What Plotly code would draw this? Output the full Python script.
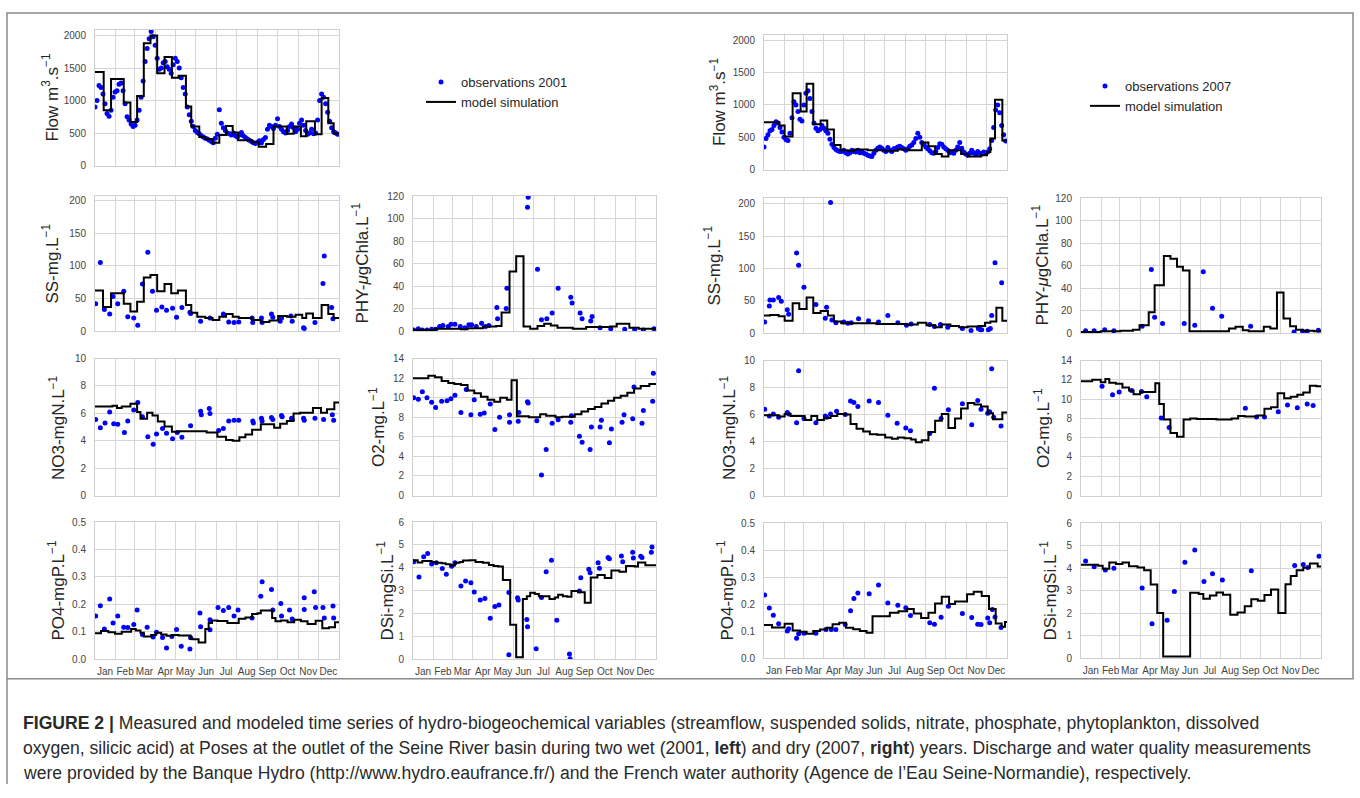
import plotly.graph_objects as go

W, H = 1360, 798

MONTHS = ["Jan", "Feb", "Mar", "Apr", "May", "Jun", "Jul", "Aug", "Sep", "Oct", "Nov", "Dec"]
MONTH_START = [0, 31, 59, 90, 120, 151, 181, 212, 243, 273, 304, 334]
MONTH_MID = [15, 45, 74, 105, 135, 166, 196, 227, 258, 288, 319, 349]

# ---------------- 2001 (wet year, left) ----------------
flow01_obs_day = list(range(0, 365, 3))
flow01_obs = [900, 1000, 1230, 1200, 1100, 950, 800, 760, 850, 1050,
              1130, 1150, 1250, 1270, 1150, 950, 750, 700, 640, 600,
              620, 700, 850, 1050, 1300, 1600, 1800, 1950, 2060, 1980,
              1850, 1650, 1480, 1500, 1580, 1600, 1520, 1480, 1420, 1550,
              1650, 1600, 1500, 1350, 1200, 1100, 900, 780, 680, 600,
              540, 510, 490, 460, 440, 420, 410, 390, 370, 350,
              420, 480, 860, 650, 580, 540, 500, 490, 470, 500,
              460, 440, 470, 510, 460, 430, 410, 390, 370, 350,
              340, 360, 380, 350, 400, 430, 560, 620, 600, 570,
              620, 720, 600, 560, 520, 500, 540, 600, 640, 580,
              520, 560, 650, 700, 620, 540, 480, 500, 560, 490,
              500, 700, 1000, 1100, 1050, 950, 820, 680, 580, 520,
              500, 480]
flow01_mod_day = [0, 13, 24, 43, 53, 63, 73, 83, 93, 104, 115, 125, 136, 144, 156, 165, 176, 186, 196, 206,
                  214, 235, 245, 256, 267, 287, 297, 308, 316, 329, 339, 349, 357]
flow01_mod = [1440, 850, 1330, 970, 670, 1070, 1880, 2000, 1420, 1670, 1350, 1380, 910, 600, 440, 410, 350, 470, 610, 510,
              390, 360, 290, 330, 600, 490, 600, 450, 680, 480, 1040, 650, 490]

ss01_obs_day = [1, 8, 14, 22, 27, 34, 43, 49, 58, 64, 71, 79, 86, 92, 100, 107, 116, 122, 130, 142, 143, 158, 172,
                192, 200, 208, 215, 235, 236, 249, 250, 264, 266, 277, 279, 293, 295, 312, 313, 329, 341, 343, 354, 356]
ss01_obs = [42, 105, 33, 26, 53, 42, 61, 22, 20, 9, 72, 121, 61, 32, 37, 32, 35, 21, 36, 29, 27, 15, 20,
            26, 14, 13, 14, 20, 13, 20, 13, 26, 21, 15, 20, 23, 15, 5, 4, 13, 73, 115, 36, 19]
ss01_mod_day = [0, 12, 24, 43, 53, 63, 73, 83, 93, 104, 114, 124, 136, 144, 153, 165, 176, 186, 196, 206,
                215, 235, 248, 261, 274, 287, 300, 310, 316, 326, 339, 349, 357]
ss01_mod = [62, 37, 58, 42, 30, 45, 82, 86, 61, 72, 58, 62, 40, 28, 22, 20, 17, 22, 26, 22,
            20, 17, 14, 16, 23, 22, 25, 20, 27, 20, 40, 26, 20]

phy01_obs_day = [1, 8, 14, 21, 28, 34, 40, 45, 53, 57, 63, 71, 78, 84, 88, 95, 103, 109, 114, 126, 127, 140, 141,
                 172, 173, 187, 193, 201, 209, 218, 237, 239, 251, 254, 267, 269, 281, 297, 318, 333, 346, 362]
phy01_obs = [1, 2, 1, 1, 1.5, 1.5, 4, 5, 4, 6, 6, 4, 3, 5.5, 5.5, 4, 7, 4, 5, 21, 11, 20, 38,
             110, 119, 55, 10, 11, 16, 38, 30, 25, 16, 11, 9, 13, 3, 2, 1.5, 1.5, 1, 2]
phy01_mod_day = [0, 33, 72, 82, 105, 125, 133, 145, 155, 166, 176, 187, 197, 207, 217, 240, 260, 296, 306, 325, 339]
phy01_mod = [1, 2, 1.5, 2.5, 4, 4.5, 16.5, 53, 66.5, 4, 2, 4.5, 6.5, 5, 3, 2, 3.5, 4, 6.5, 3, 2]

no301_obs_day = [1, 8, 15, 22, 28, 34, 44, 49, 58, 64, 71, 79, 87, 92, 101, 107, 116, 123, 130, 143, 158, 159,
                 171, 172, 185, 192, 200, 208, 215, 236, 237, 249, 250, 264, 266, 279, 280, 294, 295, 312, 313,
                 329, 342, 355, 357]
no301_obs = [5.55, 4.95, 5.3, 6.1, 5.25, 5.2, 4.6, 5.45, 6.25, 6.8, 5.75, 4.3, 3.75, 4.5, 4.9, 4.55, 4.15, 4.6,
             4.25, 5.1, 6.15, 5.9, 6.35, 6.0, 4.75, 4.9, 5.45, 5.5, 5.5, 5.45, 5.3, 5.65, 5.45, 5.7, 5.55, 5.85,
             5.75, 5.65, 5.55, 5.65, 5.5, 5.65, 5.55, 5.9, 5.5]
no301_mod_day = [0, 26, 33, 40, 53, 63, 68, 78, 86, 94, 104, 115, 126, 167, 183, 196, 206, 216, 225, 235,
                 248, 268, 277, 287, 297, 307, 326, 338, 347, 358]
no301_mod = [6.5, 6.55, 6.4, 6.5, 6.7, 6.1, 5.6, 6.05, 5.85, 5.4, 5.05, 4.65, 4.7, 4.6, 4.3, 4.05, 4.0, 4.25, 4.45, 4.8,
             5.2, 4.95, 5.25, 5.45, 6.0, 6.05, 6.4, 6.05, 6.3, 6.8]

o201_obs_day = [1, 8, 14, 21, 28, 34, 43, 51, 57, 63, 72, 80, 87, 92, 101, 107, 116, 123, 130, 145, 145, 158,
                159, 172, 173, 186, 193, 200, 209, 218, 237, 238, 250, 254, 266, 268, 281, 283, 295, 298, 314,
                317, 330, 332, 344, 346, 360, 361]
o201_obs = [10.0, 9.85, 10.6, 10.0, 9.55, 9.0, 9.65, 9.7, 9.9, 10.25, 8.5, 10.85, 8.25, 9.8, 8.3, 8.45, 9.35,
            6.75, 8.0, 7.5, 8.25, 7.6, 8.5, 9.6, 9.45, 7.65, 2.1, 4.7, 7.4, 7.75, 7.5, 8.15, 6.05, 5.45, 4.7,
            7.0, 7.0, 7.7, 5.4, 6.8, 7.5, 8.25, 7.85, 11.1, 7.4, 8.7, 9.65, 12.5]
o201_mod_day = [0, 23, 33, 43, 53, 62, 72, 82, 92, 102, 112, 122, 131, 141, 148, 156, 174, 191, 200, 214,
                224, 243, 253, 263, 273, 283, 293, 302, 312, 322, 332, 342, 355]
o201_mod = [12.0, 12.25, 12.1, 11.7, 11.5, 11.4, 11.3, 10.75, 10.45, 10.1, 9.8, 9.6, 10.0, 9.8, 11.8, 8.1, 8.0,
            8.3, 8.15, 8.0, 8.05, 8.3, 8.6, 8.85, 9.05, 9.4, 9.7, 10.0, 10.2, 10.5, 10.95, 11.2, 11.4]

po401_obs_day = [1, 8, 14, 22, 27, 34, 43, 49, 58, 63, 71, 78, 87, 92, 101, 107, 115, 122, 129, 142, 143, 157,
                 158, 172, 172, 184, 192, 200, 208, 214, 235, 248, 250, 264, 266, 278, 279, 291, 295, 313, 313,
                 328, 330, 341, 343, 356, 357]
po401_obs = [0.157, 0.195, 0.11, 0.219, 0.132, 0.157, 0.116, 0.115, 0.126, 0.179, 0.09, 0.116, 0.08, 0.098,
             0.079, 0.04, 0.082, 0.108, 0.047, 0.037, 0.078, 0.168, 0.118, 0.143, 0.107, 0.188, 0.177, 0.188,
             0.157, 0.179, 0.15, 0.229, 0.282, 0.254, 0.179, 0.203, 0.157, 0.179, 0.146, 0.224, 0.181, 0.246,
             0.188, 0.188, 0.15, 0.194, 0.15]
po401_mod_day = [0, 9, 20, 30, 40, 54, 61, 68, 73, 84, 91, 99, 107, 115, 125, 143, 146, 155, 165, 170,
                 175, 183, 198, 215, 225, 235, 243, 248, 265, 270, 278, 288, 298, 308, 318, 330, 340, 350, 359]
po401_mod = [0.094, 0.102, 0.098, 0.092, 0.1, 0.11, 0.104, 0.096, 0.082, 0.088, 0.096, 0.09, 0.085, 0.088,
             0.086, 0.074, 0.072, 0.06, 0.11, 0.132, 0.141, 0.139, 0.132, 0.147, 0.152, 0.164, 0.167, 0.177,
             0.15, 0.138, 0.141, 0.134, 0.143, 0.138, 0.128, 0.14, 0.112, 0.116, 0.134]

dsi01_obs_day = [1, 9, 16, 22, 28, 35, 44, 50, 58, 63, 72, 79, 87, 92, 101, 108, 116, 123, 129, 144, 144, 157,
                 158, 171, 172, 185, 193, 200, 208, 216, 235, 236, 250, 252, 264, 266, 278, 280, 293, 295, 313,
                 315, 330, 331, 342, 344, 358, 359]
dsi01_obs = [4.26, 3.6, 4.48, 4.62, 4.16, 4.22, 3.97, 3.72, 4.07, 4.22, 3.2, 3.42, 3.34, 2.94, 2.59, 2.65, 1.79,
             2.3, 2.37, 0.19, 2.92, 2.69, 2.59, 1.73, 1.41, 0.45, 2.7, 3.82, 4.33, 1.7, 0.22, 0.01, 2.98, 3.56,
             3.94, 3.78, 4.22, 3.98, 4.45, 4.39, 4.52, 4.26, 4.68, 4.43, 4.5, 4.45, 4.68, 4.91]
dsi01_mod_day = [0, 7, 14, 28, 35, 43, 49, 56, 63, 70, 75, 85, 94, 105, 114, 121, 128, 135, 146, 155,
                 165, 171, 176, 183, 189, 205, 213, 218, 225, 232, 238, 248, 258, 267, 277, 288, 298, 310, 320,
                 333, 338, 349]
dsi01_mod = [4.33, 4.23, 4.3, 4.25, 4.22, 4.2, 4.15, 4.1, 4.22, 4.25, 4.32, 4.33, 4.25, 4.22, 4.12, 4.08, 4.06,
             3.46, 1.5, 0.08, 2.63, 2.75, 2.9, 2.85, 2.75, 2.63, 2.7, 2.82, 2.75, 2.73, 2.98, 2.93, 2.47, 3.57,
             3.68, 3.55, 3.88, 3.83, 4.08, 4.06, 4.23, 4.11]

# ---------------- 2007 (dry year, right) ----------------
flow07_obs_day = list(range(0, 365, 3))
flow07_obs = [350, 480, 540, 600, 620, 680, 740, 720, 650, 580,
              500, 460, 450, 560, 800, 1050, 1000, 900, 780, 750,
              1000, 1180, 1220, 1100, 900, 720, 640, 600, 620, 680,
              640, 600, 560, 470, 390, 340, 310, 290, 280, 280,
              300, 260, 240, 260, 300, 280, 270, 300, 260, 280,
              250, 240, 220, 210, 200, 250, 300, 330, 350, 330,
              300, 280, 340, 300, 280, 320, 330, 350, 360, 340,
              320, 300, 320, 360, 380, 420, 480, 560, 500, 420,
              390, 350, 320, 290, 260, 250, 280, 340, 400, 390,
              350, 320, 300, 260, 270, 250, 300, 350, 420, 330,
              270, 240, 220, 250, 300, 260, 240, 280, 250, 240,
              270, 260, 270, 320, 450, 650, 920, 1000, 880, 680,
              540, 440]
flow07_mod_day = [0, 23, 31, 43, 55, 64, 74, 85, 95, 105, 115, 126, 136, 156, 182, 201, 218, 237, 247, 257,
                  267, 277, 296, 306, 326, 335, 340, 347, 358]
flow07_mod = [730, 680, 510, 1180, 900, 1330, 700, 760, 620, 380, 300, 290, 310, 300, 290, 310, 300, 420, 360, 240,
              200, 300, 240, 200, 220, 270, 480, 1080, 450]

ss07_obs_day = [1, 8, 9, 14, 22, 26, 35, 37, 49, 52, 60, 78, 92, 94, 100, 102, 108, 120, 126, 131, 142, 157, 172,
                186, 201, 214, 221, 249, 256, 265, 276, 298, 311, 322, 325, 327, 337, 340, 342, 347, 357]
ss07_obs = [17, 42, 51, 51, 55, 49, 36, 29, 124, 105, 71, 44, 23, 40, 202, 20, 16, 17, 15, 16, 22, 19, 17,
            27, 16, 12, 14, 13, 10, 13, 9, 7, 4, 7, 5, 5, 5, 7, 27, 109, 78]
ss07_mod_day = [0, 9, 22, 31, 43, 53, 64, 74, 85, 96, 105, 116, 169, 215, 231, 244, 257, 267, 280, 293,
                306, 322, 332, 340, 349, 358]
ss07_mod = [27, 28, 26, 19, 46, 37, 55, 31, 34, 27, 18, 15, 14, 13, 16, 12, 9, 13, 11, 9,
            10, 11, 16, 18, 39, 19]

phy07_obs_day = [7, 20, 36, 50, 93, 107, 112, 124, 157, 173, 186, 200, 214, 258, 324, 337, 344, 361]
phy07_obs = [2, 2, 3, 2, 6, 56.5, 14, 8.5, 8.5, 7, 54.5, 22, 15, 6, 1, 1.5, 1.5, 2.5]
phy07_mod_day = [0, 30, 60, 79, 89, 103, 112, 126, 136, 146, 155, 165, 225, 235, 246, 255, 278, 288, 298, 308,
                 318, 327, 337, 354]
phy07_mod = [1, 1.5, 2, 3, 7, 18.5, 42.5, 68.5, 66, 59, 55.5, 1.5, 4, 5.5, 2.5, 1.5, 5.5, 4, 36, 13,
             6, 3, 2, 1.5]

no307_obs_day = [1, 8, 14, 22, 35, 37, 49, 52, 60, 78, 92, 94, 100, 109, 122, 130, 135, 141, 158, 172, 186, 200,
                 213, 220, 249, 256, 266, 277, 298, 312, 321, 326, 336, 339, 342, 345, 356]
no307_obs = [6.4, 5.9, 6.05, 5.8, 6.15, 6.05, 5.4, 9.25, 5.7, 5.4, 5.9, 5.8, 6.05, 6.25, 6.0, 7.0, 6.9, 6.6, 7.0,
             6.9, 5.95, 5.35, 5.0, 4.8, 4.6, 7.95, 5.7, 6.35, 6.8, 5.25, 7.05, 6.4, 6.1, 6.2, 9.4, 5.8, 5.15]
no307_mod_day = [0, 22, 31, 40, 61, 71, 80, 90, 100, 110, 120, 130, 139, 149, 159, 170, 182, 192, 201, 211,
                 221, 228, 237, 247, 257, 267, 277, 287, 296, 306, 316, 326, 336, 344, 358]
no307_mod = [5.95, 5.85, 6.05, 5.9, 5.6, 5.9, 5.6, 5.75, 5.9, 6.05, 6.0, 5.3, 4.95, 4.75, 4.55, 4.5, 4.3, 4.2,
             4.3, 4.25, 4.15, 3.95, 4.1, 4.7, 5.55, 6.05, 5.0, 5.7, 6.45, 6.85, 6.75, 6.6, 6.1, 5.65, 6.15]

o207_obs_day = [32, 48, 58, 77, 92, 100, 122, 134, 250, 267, 279, 300, 314, 329, 344, 353]
o207_obs = [11.35, 10.45, 10.75, 10.9, 10.8, 10.25, 8.05, 7.05, 9.05, 8.15, 8.15, 8.7, 9.4, 9.1, 9.5, 9.35]
o207_mod_day = [0, 17, 30, 37, 43, 53, 63, 73, 80, 90, 113, 119, 126, 136, 146, 156, 166, 176, 206, 229,
                239, 249, 269, 279, 289, 299, 309, 319, 329, 338, 348, 358]
o207_mod = [11.85, 12.0, 11.75, 12.1, 11.7, 11.6, 11.2, 10.9, 10.5, 10.75, 11.65, 9.5, 7.9, 6.5, 6.1, 7.9, 8.0,
            7.95, 7.9, 8.0, 8.25, 8.2, 8.3, 9.0, 9.15, 10.6, 10.1, 10.25, 10.45, 10.7, 11.4, 11.35]

po407_obs_day = [1, 8, 14, 22, 35, 37, 49, 52, 60, 78, 93, 101, 108, 122, 130, 135, 141, 158, 172, 186, 201,
                 213, 220, 249, 256, 266, 277, 298, 312, 321, 326, 336, 339, 343, 347, 356]
po407_obs = [0.234, 0.185, 0.159, 0.127, 0.1, 0.109, 0.073, 0.09, 0.092, 0.092, 0.106, 0.106, 0.106, 0.124,
             0.175, 0.221, 0.241, 0.238, 0.271, 0.204, 0.196, 0.186, 0.158, 0.131, 0.125, 0.151, 0.192, 0.165,
             0.15, 0.125, 0.124, 0.148, 0.131, 0.18, 0.152, 0.113]
po407_mod_day = [0, 12, 31, 43, 54, 64, 74, 84, 94, 103, 113, 123, 134, 144, 154, 163, 189, 202, 215, 225,
                 236, 247, 257, 267, 278, 287, 305, 315, 327, 338, 348, 357, 362]
po407_mod = [0.122, 0.113, 0.127, 0.102, 0.097, 0.09, 0.1, 0.106, 0.112, 0.125, 0.131, 0.112, 0.107, 0.1,
             0.094, 0.155, 0.168, 0.173, 0.182, 0.165, 0.148, 0.168, 0.202, 0.227, 0.2, 0.21, 0.236, 0.246,
             0.23, 0.182, 0.128, 0.116, 0.134]

dsi07_obs_day = [7, 20, 37, 50, 93, 108, 131, 142, 158, 173, 187, 200, 215, 259, 325, 338, 345, 362]
dsi07_obs = [4.31, 4.06, 3.91, 3.99, 3.11, 1.53, 1.68, 2.96, 4.26, 4.8, 3.4, 3.75, 3.47, 3.88, 4.12, 4.16, 4.03,
             4.53]
dsi07_mod_day = [0, 26, 33, 43, 53, 63, 73, 86, 96, 106, 116, 125, 166, 179, 186, 196, 206, 216, 227, 238,
                 249, 259, 269, 279, 289, 300, 311, 319, 328, 338, 348, 360]
dsi07_mod = [4.15, 4.1, 3.97, 4.25, 4.18, 4.25, 4.08, 4.03, 3.9, 3.27, 2.0, 0.07, 2.9, 2.85, 2.64, 2.78, 2.91,
             2.82, 1.93, 2.03, 2.3, 2.62, 2.55, 2.8, 3.05, 2.0, 3.28, 3.65, 3.9, 4.02, 4.2, 4.07]

# ---------------- axis definitions ----------------
FLOW_T = "Flow m<sup>3</sup>.s<sup>\u22121</sup>"
SS_T = "SS-mg.L<sup>\u22121</sup>"
PHY_T = "PHY-<i>\u03bc</i>gChla.L<sup>\u22121</sup>"
NO3_T = "NO3-mgN.L<sup>\u22121</sup>"
O2_T = "O2-mg.L<sup>\u22121</sup>"
PO4_T = "PO4-mgP.L<sup>\u22121</sup>"
DSI_T = "DSi-mgSi.L<sup>\u22121</sup>"

flow_ticks = [0, 500, 1000, 1500, 2000]
ss_ticks = [0, 50, 100, 150, 200]
phy_ticks = [0, 20, 40, 60, 80, 100, 120]
no3_ticks = [0, 2, 4, 6, 8, 10]
o2_ticks = [0, 2, 4, 6, 8, 10, 12, 14]
po4_ticks = [0.0, 0.1, 0.2, 0.3, 0.4, 0.5]
po4_text = ["0.0", "0.1", "0.2", "0.3", "0.4", "0.5"]
dsi_ticks = [0, 1, 2, 3, 4, 5, 6]

# (obs_x, obs_y, mod_x, mod_y, pixel box [x0,x1,y0,y1], yrange, ticks, ticktext, title, title_x, bottom, year)
panels = [
    (flow01_obs_day, flow01_obs, flow01_mod_day, flow01_mod, [95, 339, 24, 162], [0, 2090], flow_ticks, None, FLOW_T, 50, False, 2001),
    (ss01_obs_day, ss01_obs, ss01_mod_day, ss01_mod, [95, 339, 193, 330], [0, 207], ss_ticks, None, SS_T, 50, False, 2001),
    (phy01_obs_day, phy01_obs, phy01_mod_day, phy01_mod, [413, 656, 193, 330], [0, 120], phy_ticks, None, PHY_T, 360, False, 2001),
    (no301_obs_day, no301_obs, no301_mod_day, no301_mod, [95, 339, 358, 497], [0, 10], no3_ticks, None, NO3_T, 57, False, 2001),
    (o201_obs_day, o201_obs, o201_mod_day, o201_mod, [413, 656, 358, 497], [0, 14], o2_ticks, None, O2_T, 377, False, 2001),
    (po401_obs_day, po401_obs, po401_mod_day, po401_mod, [95, 339, 524, 663], [0, 0.5], po4_ticks, po4_text, PO4_T, 56, True, 2001),
    (dsi01_obs_day, dsi01_obs, dsi01_mod_day, dsi01_mod, [413, 656, 524, 663], [0, 6], dsi_ticks, None, DSI_T, 385, True, 2001),
    (flow07_obs_day, flow07_obs, flow07_mod_day, flow07_mod, [764, 1007, 29, 166], [0, 2090], flow_ticks, None, FLOW_T, 718, False, 2007),
    (ss07_obs_day, ss07_obs, ss07_mod_day, ss07_mod, [764, 1007, 195, 332], [0, 209], ss_ticks, None, SS_T, 712, False, 2007),
    (phy07_obs_day, phy07_obs, phy07_mod_day, phy07_mod, [1081, 1321, 195, 332], [0, 120], phy_ticks, None, PHY_T, 1040, False, 2007),
    (no307_obs_day, no307_obs, no307_mod_day, no307_mod, [764, 1007, 360, 497], [0, 10], no3_ticks, None, NO3_T, 728, False, 2007),
    (o207_obs_day, o207_obs, o207_mod_day, o207_mod, [1081, 1321, 360, 497], [0, 14], o2_ticks, None, O2_T, 1042, False, 2007),
    (po407_obs_day, po407_obs, po407_mod_day, po407_mod, [764, 1007, 525, 662], [0, 0.5], po4_ticks, po4_text, PO4_T, 725, True, 2007),
    (dsi07_obs_day, dsi07_obs, dsi07_mod_day, dsi07_mod, [1081, 1321, 525, 662], [0, 6], dsi_ticks, None, DSI_T, 1048, True, 2007),
]

GRID = "#d6d6d6"
FRAME = "#cfcfcf"
TICKFONT = dict(family="Liberation Sans, Arial, sans-serif", size=10, color="#444444")

fig = go.Figure()
layout = dict(
    width=W, height=H, margin=dict(l=0, r=0, t=0, b=0),
    paper_bgcolor="white", plot_bgcolor="white",
    showlegend=True,
    annotations=[], shapes=[],
)

for k, (ox, oy, mx, my, box, yr, ticks, ttext, title, tx, bottom, year) in enumerate(panels, start=1):
    xs = "" if k == 1 else str(k)
    legend_id = "legend" if year == 2001 else "legend2"
    first = (k == 1 or k == 8)
    fig.add_trace(go.Scatter(
        x=ox, y=oy, mode="markers", xaxis="x" + xs, yaxis="y" + xs,
        marker=dict(color="#0000ff", size=5, line=dict(width=0)),
        name="observations %d" % year, legend=legend_id, showlegend=first,
    ))
    fig.add_trace(go.Scatter(
        x=list(mx) + [365], y=list(my) + [my[-1]], mode="lines", xaxis="x" + xs, yaxis="y" + xs,
        line=dict(color="black", width=2, shape="hv"),
        name="model simulation", legend=legend_id, showlegend=first,
    ))
    x0, x1, y0, y1 = box
    layout["xaxis" + xs] = dict(
        domain=[x0 / W, x1 / W], range=[0, 365], anchor="y" + xs,
        showline=True, mirror=True, linecolor=FRAME, linewidth=1,
        tickmode="array", tickvals=MONTH_MID, ticktext=MONTHS, tickangle=0,
        showticklabels=bottom, ticks="", showgrid=False, zeroline=False,
        tickfont=TICKFONT, ticklabelstandoff=3,
        minor=dict(tickmode="array", tickvals=MONTH_START[1:], showgrid=True,
                   gridcolor=GRID, gridwidth=1, ticks=""),
    )
    layout["yaxis" + xs] = dict(
        domain=[1 - y1 / H, 1 - y0 / H], range=yr, anchor="x" + xs,
        showline=True, mirror=True, linecolor=FRAME, linewidth=1,
        tickmode="array", tickvals=ticks, ticktext=ttext if ttext else [str(t) for t in ticks],
        ticks="", showgrid=True, gridcolor=GRID, gridwidth=1, zeroline=False,
        tickfont=TICKFONT, ticklabelstandoff=6,
    )
    layout["annotations"].append(dict(
        text=title, textangle=-90, xref="paper", yref="paper",
        x=tx / W, y=1 - (y0 + y1) / 2 / H, xanchor="center", yanchor="middle",
        showarrow=False, font=dict(family="Liberation Sans, Arial, sans-serif", size=17, color="#262626"),
    ))

legend_common = dict(
    font=dict(family="Liberation Sans, Arial, sans-serif", size=13, color="#262626"),
    bgcolor="rgba(0,0,0,0)", borderwidth=0, xanchor="left", yanchor="top",
    itemwidth=30, tracegroupgap=0,
)
layout["legend"] = dict(x=421 / W, y=1 - 62 / H, **legend_common)
layout["legend2"] = dict(x=1085 / W, y=1 - 66 / H, **legend_common)

# figure frame
layout["shapes"].append(dict(type="rect", xref="paper", yref="paper",
                             x0=7 / W, x1=1353 / W, y0=1 - 683 / H, y1=1 - 7 / H,
                             line=dict(color="#8a8a8a", width=1.5), fillcolor="rgba(0,0,0,0)"))
layout["shapes"].append(dict(type="line", xref="paper", yref="paper",
                             x0=7 / W, x1=7 / W, y0=1 - 790 / H, y1=1 - 683 / H,
                             line=dict(color="#8a8a8a", width=1.5)))

caption_lines = [
    "<b>FIGURE 2 |</b> Measured and modeled time series of hydro-biogeochemical variables (streamflow, suspended solids, nitrate, phosphate, phytoplankton, dissolved",
    "oxygen, silicic acid) at Poses at the outlet of the Seine River basin during two wet (2001, <b>left</b>) and dry (2007, <b>right</b>) years. Discharge and water quality measurements",
    "were provided by the Banque Hydro (http://www.hydro.eaufrance.fr/) and the French water authority (Agence de l\u2019Eau Seine-Normandie), respectively.",
]
for i, line in enumerate(caption_lines):
    layout["annotations"].append(dict(
        text=line, xref="paper", yref="paper", x=21 / W, y=1 - (728 + 25.5 * i) / H,
        xanchor="left", yanchor="middle", showarrow=False, align="left",
        font=dict(family="Liberation Sans, Arial, sans-serif", size=17.6, color="#2a2a2a"),
    ))

fig.update_layout(**layout)
fig.write_html("out.html", config={"displayModeBar": False},
               post_script="document.body.style.margin='0px';")
